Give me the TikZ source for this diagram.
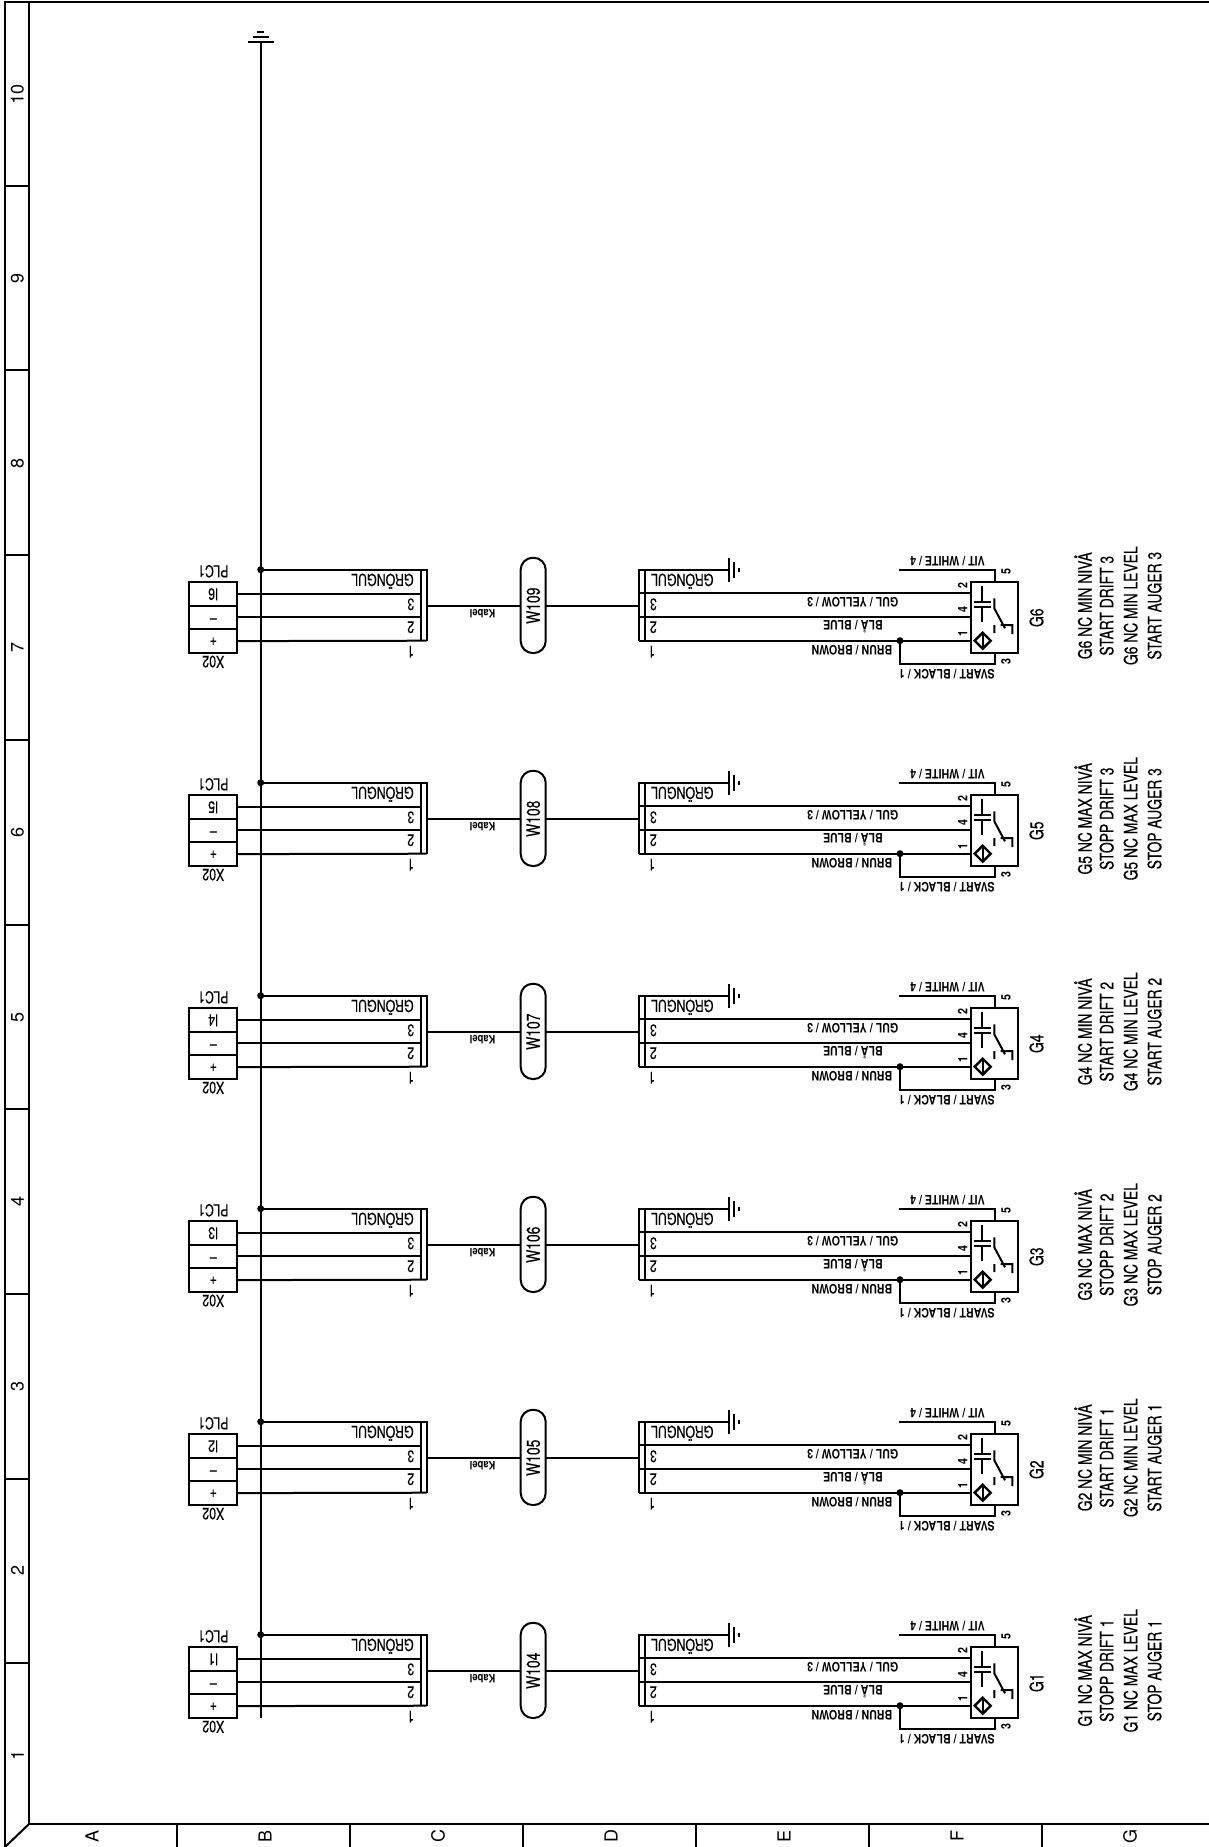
\documentclass[tikz,border=0pt]{standalone}
\usepackage{fontspec}
\setmainfont{TeX Gyre Heros}
\newfontfamily\cad[FakeStretch=.75,FakeBold=.25]{TeX Gyre Heros}
\newfontfamily\cadv[FakeStretch=.75,FakeBold=.25]{TeX Gyre Heros}
\newfontfamily\cadb[FakeStretch=.82,UprightFont={* Bold}]{TeX Gyre Heros}
\begin{document}
\begin{tikzpicture}[x=1pt,y=-1pt,line width=2pt,
  frameline/.style={line width=2pt},
  wire/.style={line width=2pt},
  term/.style={draw,line width=2pt,rectangle,minimum width=48pt,inner sep=0pt,outer sep=0pt},
  pill/.style={draw,line width=2pt,rounded corners=12pt,fill=white,inner sep=0pt,outer sep=0pt,minimum width=25pt,minimum height=95.3pt},
  sensorbox/.style={draw,line width=2pt,inner sep=0pt,outer sep=0pt,minimum width=47.6pt,minimum height=71.3pt},
  bodytxt/.style={font=\cad\fontsize{16.5}{17}\selectfont,inner sep=0pt,rotate=180},
  smalltxt/.style={font=\cadb\fontsize{13}{13}\selectfont,inner sep=0pt,rotate=180},
  vtxt/.style={font=\cadv\fontsize{18.5}{19}\selectfont,inner sep=0pt,rotate=90},
  pintxt/.style={font=\cadb\fontsize{13}{13}\selectfont,inner sep=0pt,rotate=90},
  gridtxt/.style={font=\fontsize{18}{18}\selectfont,inner sep=0pt,rotate=90},
  junction/.style={circle,fill=black,inner sep=0pt,minimum size=7pt},
]
\useasboundingbox (0,0) rectangle (1209,1847);
% sheet frame
\draw[frameline] (5,1847) -- (5,2) -- (1209,2);
\draw[frameline] (29,2) -- (29,1824) -- (1209,1824);
\draw[frameline] (29,1824) -- (5,1847);
\foreach \i in {1,...,9} \draw[frameline] (5,{1848-\i*184.7}) -- (29,{1848-\i*184.7});
\foreach \i in {1,...,6} \draw[frameline] ({4.3+\i*173},1824) -- ({4.3+\i*173},1847);
\foreach \i in {1,...,10} \node[gridtxt] (row\i) at (17.5,{1940-\i*184.6}) {\i};
\foreach \l [count=\i] in {A,B,C,D,E,F,G} \node[gridtxt] (col\l) at ({-81+\i*173},1836) {\l};
% bus with earth symbol
\coordinate (bustop) at (260.7,42.3);
\coordinate (busend) at (260.7,1718);
\draw[frameline] (bustop) -- (busend);
\draw[frameline] (247.9,42.3) -- (273.5,42.3) (252.7,37.3) -- (268.7,37.3) (257.4,32.3) -- (264,32.3);
% groups
\foreach \n/\Y/\mm/\lvl/\aug/\dr in {
  1/1634.7/MAX/1/STOP/STOPP,
  2/1421.7/MIN/1/START/START,
  3/1208.7/MAX/2/STOP/STOPP,
  4/995.7/MIN/2/START/START,
  5/782.7/MAX/3/STOP/STOPP,
  6/569.7/MIN/3/START/START}{
\begin{scope}[shift={(0,\Y)}]
  % terminal block
  \node[term,minimum height=24pt,anchor=north west] (tA\n) at (189.3,12) {};
  \node[term,minimum height=23.5pt,anchor=north west] (tB\n) at (189.3,36) {};
  \node[term,minimum height=24pt,anchor=north west] (tC\n) at (189.3,59.4) {};
  \node[bodytxt] (plc\n) at (213.3,1.6) {PLC1};
  \node[bodytxt] (inp\n) at (213.3,24.6) {I\n};
  \node[bodytxt] (minus\n) at (213.3,47.3) {–};
  \node[bodytxt] (plus\n) at (213.3,71.3) {+};
  \node[bodytxt] (xo\n) at (213.3,92) {X02};
  % cable left
  \coordinate (dot\n) at (260.7,0);
  \coordinate (barLa\n) at (426.7,0);
  \coordinate (barLb\n) at (426.7,71);
  \coordinate (barLc\n) at (420.7,0);
  \coordinate (barLd\n) at (420.7,71);
  \coordinate (barRa\n) at (639,0);
  \coordinate (barRb\n) at (639,71);
  \coordinate (barRc\n) at (645,0);
  \coordinate (barRd\n) at (645,71);
  \coordinate (stubL\n) at (426.7,36);
  \coordinate (stubR\n) at (639,36);
  \coordinate (gnd\n) at (728.7,0);
  \node[junction] (jB\n) at (dot\n) {};
  \draw[frameline] (dot\n) -- (barLa\n) -- (barLb\n) (barLc\n) -- (barLd\n);
  \draw[wire] (tA\n.east) -- (barLc\n |- tA\n.east);
  \draw[wire] (tB\n.east) -- (barLc\n |- tB\n.east);
  \draw[wire] (tC\n.east) -- (barLb\n);
  \node[bodytxt] (gnL\n) at (382.5,11.5) {GRÖNGUL};
  \node[bodytxt] (thrL\n) at (410.7,34.6) {3};
  \node[bodytxt] (twoL\n) at (410.7,57.6) {2};
  \node[bodytxt] (oneL\n) at (410.7,82) {1};
  \node[smalltxt,font=\cadb\fontsize{11.5}{12}\selectfont] (kab\n) at (482.5,44) {Kabel};
  \node[pill] (W\n) at (533.2,35.7) {};
  \node[font=\cadv\fontsize{18.5}{19}\selectfont,inner sep=0pt,rotate=90] (Wt\n) at (533.2,36) {W10\the\numexpr\n+3\relax};
  \draw[wire] (stubL\n) -- (W\n.west |- stubL\n);
  \draw[wire] (W\n.east |- stubR\n) -- (stubR\n);
  % cable right
  \draw[frameline] (gnd\n) -- (barRa\n) -- (barRb\n) (barRc\n) -- (barRd\n);
  \draw[frameline] (728.7,-12) -- (728.7,12) (734,-7.7) -- (734,8) (739.3,-2) -- (739.3,2.3);
  \node[bodytxt] (gnR\n) at (682.3,11.5) {GRÖNGUL};
  \node[bodytxt] (thrR\n) at (653.3,34.6) {3};
  \node[bodytxt] (twoR\n) at (653.3,57.6) {2};
  \node[bodytxt] (oneR\n) at (651.7,82) {1};
  % sensor
  \node[sensorbox,anchor=north west] (S\n) at (970.7,12) {};
  \coordinate (sA\n) at (S\n.west |- 0,23.6);
  \coordinate (sB\n) at (S\n.west |- 0,47.3);
  \coordinate (sC\n) at (S\n.west |- 0,71);
  \coordinate (lA\n) at (barRa\n |- 0,23.6);
  \coordinate (lB\n) at (barRa\n |- 0,47.3);
  \coordinate (lC\n) at (barRa\n |- 0,71);
  \draw[wire] (lA\n) -- (sA\n);
  \draw[wire] (lB\n) -- (sB\n);
  \draw[wire] (lC\n) -- (sC\n);
  \coordinate (wtop\n) at (899.3,0);
  \coordinate (wtopb\n) at (995,0);
  \coordinate (wbot\n) at (900,71);
  \coordinate (wbotb\n) at (900,94.6);
  \coordinate (wbotc\n) at (995,94.6);
  \draw[wire] (wtop\n) -- (wtopb\n) -- (wtopb\n |- S\n.north);
  \draw[wire] (wbot\n) -- (wbotb\n) -- (wbotc\n) -- (wbotc\n |- S\n.south);
  \node[junction] (jS\n) at (wbot\n) {};
  % sensor symbol
  \draw[wire] (982.3,16.3) -- (982.3,33.6) (982.3,38) -- (982.3,52)
     (974.3,32) -- (990.7,32) (974.3,37) -- (990.7,37);
  \draw[wire] (994.3,28.6) -- (994.3,38.6) -- (1005,58.6)
     (1000.7,55.3) -- (1012.3,55.3) -- (1012.3,64.3)
     (994.3,55.3) -- (994.3,63.3);
  \draw[line width=2.4pt] (974.7,71) -- (982.7,63) -- (990.7,71) -- (982.7,79) -- cycle;
  \draw[wire] (982.7,64) -- (982.7,78);
  % pins
  \node[pintxt] (p2\n) at (962.7,16) {2};
  \node[pintxt] (p4\n) at (962.7,40.3) {4};
  \node[pintxt] (p1\n) at (962.7,64) {1};
  \node[pintxt] (p5\n) at (1006,2) {5};
  \node[pintxt] (p3\n) at (1006,92) {3};
  % wire labels
  \node[smalltxt] (lg\n) at (852.7,33) {GUL / YELLOW / 3};
  \node[smalltxt] (lb\n) at (853,57) {BLÅ / BLUE};
  \node[smalltxt] (lbr\n) at (852,80.3) {BRUN / BROWN};
  \node[smalltxt] (lv\n) at (947.5,-8.7) {VIT / WHITE / 4};
  \node[smalltxt] (ls\n) at (946.8,104.3) {SVART / BLACK / 1};
  % descriptions
  \node[vtxt] (gn\n) at (1036.5,48) {G\n};
  \node[vtxt] (d1\n) at (1083,36) {G\n{} NC \mm{} NIVÅ};
  \node[vtxt] (d2\n) at (1106.7,36) {\dr{} DRIFT \lvl};
  \node[vtxt] (d3\n) at (1130.7,36) {G\n{} NC \mm{} LEVEL};
  \node[vtxt] (d4\n) at (1154.5,36) {\aug{} AUGER \lvl};
\end{scope}
}
\end{tikzpicture}
\end{document}
